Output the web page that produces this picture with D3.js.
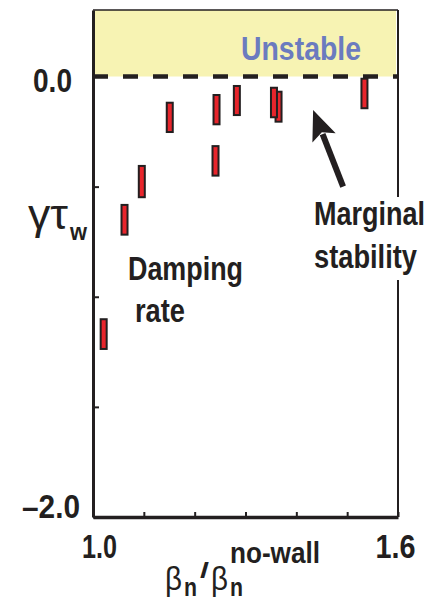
<!DOCTYPE html>
<html>
<head>
<meta charset="utf-8">
<script src="https://cdn.jsdelivr.net/npm/d3@7/dist/d3.min.js"></script>
<style>
  body { margin: 0; background: #fff; }
  svg { display: block; }
  text { font-family: "Liberation Sans", Arial, sans-serif; font-weight: bold; fill: #231f20; }
</style>
</head>
<body>
<div class="chart"></div>
<script>
// beta_n / beta_n(no-wall) for each shot
const ratio = [1.021, 1.062, 1.096, 1.151, 1.241, 1.243, 1.283, 1.365, 1.356, 1.534];
// gamma*tau_w error range (top and bottom of each bar)
const rateHigh = [-1.102, -0.583, -0.406, -0.119, -0.316, -0.084, -0.043, -0.069, -0.051, -0.010];
const rateLow = [-1.237, -0.718, -0.548, -0.252, -0.450, -0.217, -0.175, -0.205, -0.185, -0.144];

const xTicks = [1.0, 1.1, 1.2, 1.3, 1.4, 1.5, 1.6];
const xTickLabels = { 1.0: "1.0", 1.6: "1.6" };
const yTicks = [0, -0.5, -1.0, -1.5, -2.0];
const yTickLabels = ["0.0", "–2.0"];

// arrow pointing at the marginal stability line, in data units [tail, tip]
const arrowPts = [[1.492, -0.50], [1.433, -0.152]];

const W = 435, H = 604;
const margin = { top: 10, right: 37, bottom: 87, left: 93 };

// the original uses a condensed bold face; squeeze the text to its widths
function narrow(sel, w) {
  sel.attr("textLength", w).attr("lengthAdjust", "spacingAndGlyphs");
  return sel;
}

const svg = d3.select(".chart").append("svg")
  .attr("width", W)
  .attr("height", H);

const x = d3.scaleLinear().domain([1.0, 1.6]).range([margin.left, W - margin.right]);
const y = d3.scaleLinear().domain([-2.0, 0.302]).range([H - margin.bottom, margin.top]);

const data = ratio.map((r, i) => ({ r: r, hi: rateHigh[i], lo: rateLow[i] }));

// unstable region
svg.append("rect")
  .attr("x", x(1.0))
  .attr("y", y(0.302))
  .attr("width", x(1.6) - x(1.0) - 2)
  .attr("height", y(0) - y(0.302))
  .attr("fill", "#f7f3b3");

svg.append("text")
  .attr("x", 241)
  .attr("y", 60)
  .style("font-size", "33px")
  .style("fill", "#6b7bbf")
  .text("Unstable")
  .call(narrow, 120);

// frame: top + right thin
svg.append("line")
  .attr("x1", x(1.0)).attr("x2", x(1.6))
  .attr("y1", y(0.302)).attr("y2", y(0.302))
  .attr("stroke", "#231f20").attr("stroke-width", 1.5);
svg.append("line")
  .attr("x1", x(1.6)).attr("x2", x(1.6))
  .attr("y1", y(0.302)).attr("y2", y(-2.0))
  .attr("stroke", "#231f20").attr("stroke-width", 2);

// x axis
svg.append("g")
  .attr("class", "x axis")
  .attr("transform", "translate(0," + y(-2.0) + ")")
  .call(d3.axisBottom(x).tickValues(xTicks).tickSizeInner(-5).tickSizeOuter(0).tickPadding(18)
    .tickFormat(d => xTickLabels[d] || ""))
  .call(g => g.select(".domain").attr("stroke", "#231f20").attr("stroke-width", 3.5))
  .call(g => g.selectAll(".tick line").attr("stroke", "#231f20").attr("stroke-width", 2))
  .call(g => g.selectAll(".tick text").attr("fill", "#231f20").style("font-size", "33px")
    .attr("font-family", null)
    .attr("dx", d => d === 1.0 ? 6 : -3)
    .filter(d => xTickLabels[d])
    .each(function (d) { narrow(d3.select(this), d === 1.0 ? 35 : 40); }));

// y axis
svg.append("g")
  .attr("class", "y axis")
  .attr("transform", "translate(" + x(1.0) + ",0)")
  .call(d3.axisLeft(y).tickValues(yTicks).tickSizeInner(-6).tickSizeOuter(0).tickFormat(""))
  .call(g => g.select(".domain").attr("stroke", "#231f20").attr("stroke-width", 3))
  .call(g => g.selectAll(".tick line").attr("stroke", "#231f20").attr("stroke-width", 2));

svg.append("text")
  .attr("x", x(1.0) - 21)
  .attr("y", y(0) + 15)
  .attr("text-anchor", "end")
  .style("font-size", "33px")
  .text(yTickLabels[0])
  .call(narrow, 39);
svg.append("text")
  .attr("x", x(1.0) - 13)
  .attr("y", y(-2.0) + 1)
  .attr("text-anchor", "end")
  .style("font-size", "33px")
  .text(yTickLabels[1])
  .call(narrow, 58);

// marginal stability line
svg.append("line")
  .attr("x1", x(1.0)).attr("x2", x(1.6))
  .attr("y1", y(0)).attr("y2", y(0))
  .attr("stroke", "#231f20")
  .attr("stroke-width", 4.5)
  .attr("stroke-dasharray", "15,15");

// damping rate bars
svg.append("g")
  .selectAll("rect")
  .data(data)
  .join("rect")
  .attr("x", d => x(d.r) - 3)
  .attr("y", d => y(d.hi))
  .attr("width", 6)
  .attr("height", d => y(d.lo) - y(d.hi))
  .attr("fill", "#e8252c")
  .attr("stroke", "#231f20")
  .attr("stroke-width", 2);

// arrow
const tail = [x(arrowPts[0][0]), y(arrowPts[0][1])];
const tip = [x(arrowPts[1][0]), y(arrowPts[1][1])];
const dx = tip[0] - tail[0], dy = tip[1] - tail[1];
const len = Math.hypot(dx, dy);
const ux = dx / len, uy = dy / len;
const headLen = 30, headW = 12.5;
const base = [tip[0] - ux * headLen, tip[1] - uy * headLen];
svg.append("line")
  .attr("x1", tail[0]).attr("y1", tail[1])
  .attr("x2", base[0] + ux * 4).attr("y2", base[1] + uy * 4)
  .attr("stroke", "#231f20")
  .attr("stroke-width", 6);
svg.append("path")
  .attr("d", d3.line()([
    tip,
    [base[0] - uy * headW, base[1] + ux * headW],
    [base[0] + ux * 6, base[1] + uy * 6],
    [base[0] + uy * headW, base[1] - ux * headW]
  ]) + "Z")
  .attr("fill", "#231f20");

// labels
const marg = svg.append("g");
marg.append("rect")
  .attr("x", 311).attr("y", 197)
  .attr("width", 118).attr("height", 83)
  .attr("fill", "#fff");
marg.append("text").attr("x", 314).attr("y", 225).style("font-size", "33px").text("Marginal").call(narrow, 111);
marg.append("text").attr("x", 314).attr("y", 268).style("font-size", "33px").text("stability").call(narrow, 103);

svg.append("text").attr("x", 128).attr("y", 280).style("font-size", "33px").text("Damping").call(narrow, 115);
svg.append("text").attr("x", 135).attr("y", 322).style("font-size", "33px").text("rate").call(narrow, 50);

// y title: gamma tau_w
svg.append("text").attr("x", 28).attr("y", 229)
  .style("font-size", "42px").style("font-weight", "normal").text("γτ").call(narrow, 40);
svg.append("text").attr("x", 70).attr("y", 240)
  .style("font-size", "24px").text("w").call(narrow, 17);

// x title: beta_n / beta_n^no-wall
const xt = svg.append("g");
xt.append("text").attr("x", 165).attr("y", 590)
  .style("font-size", "34px").style("font-weight", "normal").text("β").call(narrow, 17);
xt.append("text").attr("x", 184).attr("y", 596)
  .style("font-size", "25px").text("n").call(narrow, 13);
xt.append("text").attr("x", 200).attr("y", 578)
  .style("font-size", "22px").text("/").call(narrow, 9);
xt.append("text").attr("x", 211).attr("y", 590)
  .style("font-size", "34px").style("font-weight", "normal").text("β").call(narrow, 17);
xt.append("text").attr("x", 230).attr("y", 596)
  .style("font-size", "25px").text("n").call(narrow, 13);
xt.append("text").attr("x", 230).attr("y", 563)
  .style("font-size", "29px").text("no-wall").call(narrow, 90);
</script>
</body>
</html>
